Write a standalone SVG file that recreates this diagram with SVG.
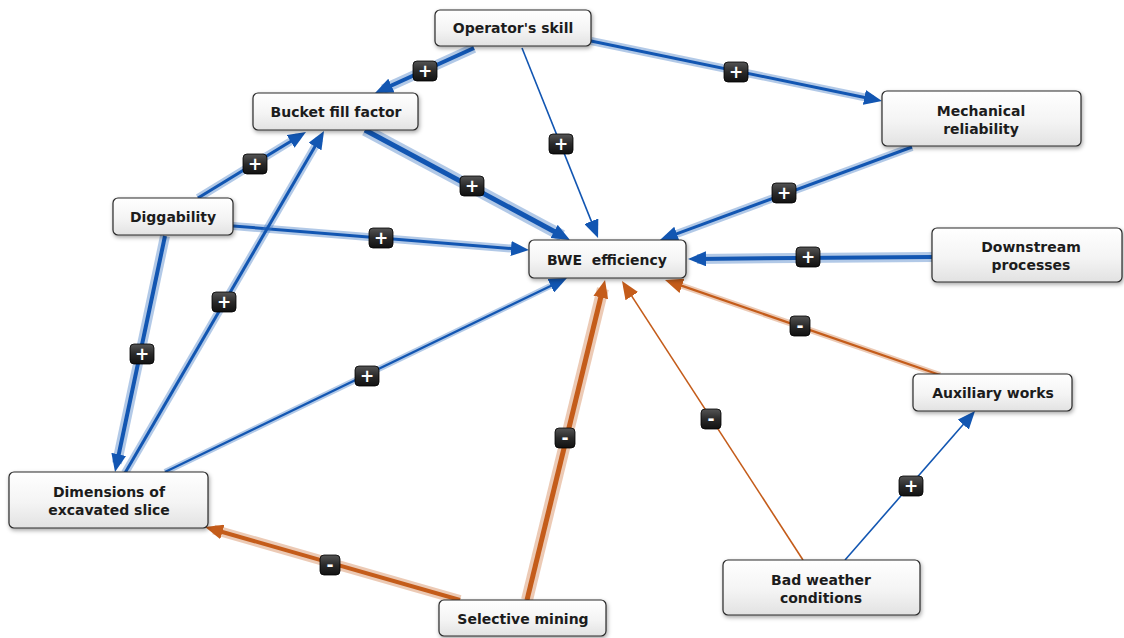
<svg xmlns="http://www.w3.org/2000/svg" width="1124" height="638" viewBox="0 0 1124 638">
  <defs>
    <linearGradient id="nodeFill" x1="0" y1="0" x2="0" y2="1">
      <stop offset="0" stop-color="#ffffff"/>
      <stop offset="0.55" stop-color="#f4f4f4"/>
      <stop offset="1" stop-color="#e2e2e2"/>
    </linearGradient>
    <linearGradient id="badgeFill" x1="0" y1="0" x2="0" y2="1">
      <stop offset="0" stop-color="#555555"/>
      <stop offset="0.5" stop-color="#2a2a2a"/>
      <stop offset="1" stop-color="#111111"/>
    </linearGradient>
    <filter id="shadow" x="-10%" y="-20%" width="120%" height="160%">
      <feDropShadow dx="1" dy="2" stdDeviation="2" flood-color="#000" flood-opacity="0.35"/>
    </filter>
    <marker id="arrowBlue" viewBox="0 0 18 15" markerUnits="userSpaceOnUse" markerWidth="18" markerHeight="15" refX="9" refY="7.5" orient="auto">
      <path d="M0,0 L18,7.5 L0,15 z" fill="#1256b2"/>
    </marker>
    <marker id="arrowOrange" viewBox="0 0 18 15" markerUnits="userSpaceOnUse" markerWidth="18" markerHeight="15" refX="9" refY="7.5" orient="auto">
      <path d="M0,0 L18,7.5 L0,15 z" fill="#c45c1a"/>
    </marker>
  </defs>
  <style>
    .node rect { fill: url(#nodeFill); stroke: #2a2a2a; stroke-width: 1.2; filter: url(#shadow); }
    .node text { font-family: "DejaVu Sans", Verdana, sans-serif; font-weight: bold; font-size: 14px; fill: #1c1c1c; text-anchor: middle; white-space: pre; }
    .halo { fill: none; stroke-linecap: butt; }
    .core { fill: none; stroke-linecap: butt; }
    .pos .halo { stroke: #3f78c4; stroke-opacity: 0.4; }
    .pos .core { stroke: #1256b2; marker-end: url(#arrowBlue); }
    .neg .halo { stroke: #cf7a45; stroke-opacity: 0.4; }
    .neg .core { stroke: #c45c1a; marker-end: url(#arrowOrange); }
    .w5 .core { stroke-width: 5; } .w5 .halo { stroke-width: 12; }
    .w4 .core { stroke-width: 4; } .w4 .halo { stroke-width: 10; }
    .w3 .core { stroke-width: 3; } .w3 .halo { stroke-width: 8; }
    .w2 .core { stroke-width: 2.2; } .w2 .halo { stroke-width: 6; }
    .w1 .core { stroke-width: 1.6; }
    .badge rect { fill: url(#badgeFill); stroke: #000; stroke-width: 0.8; }
    .badge text { font-family: "DejaVu Sans", Verdana, sans-serif; font-weight: bold; font-size: 17px; fill: #ffffff; text-anchor: middle; }
  </style>

  <g id="connectors">
    <!-- Operator's skill -> Bucket fill factor -->
    <g class="pos w4">
      <line class="halo" x1="474" y1="48" x2="383.2" y2="89.3"/>
      <line class="core" x1="474" y1="48" x2="383.2" y2="89.3"/>
    </g>
    <!-- Operator's skill -> Mechanical reliability -->
    <g class="pos w3">
      <line class="halo" x1="591" y1="41" x2="873.2" y2="99.2"/>
      <line class="core" x1="591" y1="41" x2="873.2" y2="99.2"/>
    </g>
    <!-- Operator's skill -> BWE efficiency -->
    <g class="pos w1">
      <line class="core" x1="522" y1="48" x2="594.7" y2="229.6"/>
    </g>
    <!-- Bucket fill factor -> BWE efficiency -->
    <g class="pos w5">
      <line class="halo" x1="365" y1="130" x2="562.1" y2="235.7"/>
      <line class="core" x1="365" y1="130" x2="562.1" y2="235.7"/>
    </g>
    <!-- Mechanical reliability -> BWE efficiency -->
    <g class="pos w3">
      <line class="halo" x1="912" y1="147" x2="668.4" y2="236.9"/>
      <line class="core" x1="912" y1="147" x2="668.4" y2="236.9"/>
    </g>
    <!-- Diggability -> Bucket fill factor -->
    <g class="pos w3">
      <line class="halo" x1="198" y1="198" x2="298.3" y2="136.7"/>
      <line class="core" x1="198" y1="198" x2="298.3" y2="136.7"/>
    </g>
    <!-- Diggability -> BWE efficiency -->
    <g class="pos w3">
      <line class="halo" x1="233" y1="226" x2="520" y2="249.3"/>
      <line class="core" x1="233" y1="226" x2="520" y2="249.3"/>
    </g>
    <!-- Diggability -> Dimensions of excavated slice -->
    <g class="pos w4">
      <line class="halo" x1="165" y1="236" x2="116.9" y2="463.2"/>
      <line class="core" x1="165" y1="236" x2="116.9" y2="463.2"/>
    </g>
    <!-- Dimensions of excavated slice -> Bucket fill factor -->
    <g class="pos w3">
      <line class="halo" x1="125" y1="473" x2="319.5" y2="138.8"/>
      <line class="core" x1="125" y1="473" x2="319.5" y2="138.8"/>
    </g>
    <!-- Dimensions of excavated slice -> BWE efficiency -->
    <g class="pos w2">
      <line class="halo" x1="165" y1="472" x2="558.9" y2="281.9"/>
      <line class="core" x1="165" y1="472" x2="558.9" y2="281.9"/>
    </g>
    <!-- Downstream processes -> BWE efficiency -->
    <g class="pos w4">
      <line class="halo" x1="932" y1="257" x2="697" y2="258.9"/>
      <line class="core" x1="932" y1="257" x2="697" y2="258.9"/>
    </g>
    <!-- Selective mining -> Dimensions of excavated slice -->
    <g class="neg w4">
      <line class="halo" x1="460" y1="600" x2="213.7" y2="529.5"/>
      <line class="core" x1="460" y1="600" x2="213.7" y2="529.5"/>
    </g>
    <!-- Selective mining -> BWE efficiency -->
    <g class="neg w5">
      <line class="halo" x1="527" y1="600" x2="602.9" y2="288.7"/>
      <line class="core" x1="527" y1="600" x2="602.9" y2="288.7"/>
    </g>
    <!-- Bad weather conditions -> BWE efficiency -->
    <g class="neg w1">
      <line class="core" x1="803" y1="560" x2="626.9" y2="288.6"/>
    </g>
    <!-- Bad weather conditions -> Auxiliary works -->
    <g class="pos w1">
      <line class="core" x1="845" y1="560" x2="969.1" y2="417.8"/>
    </g>
    <!-- Auxiliary works -> BWE efficiency -->
    <g class="neg w2">
      <line class="halo" x1="940" y1="375" x2="673.5" y2="282.9"/>
      <line class="core" x1="940" y1="375" x2="673.5" y2="282.9"/>
    </g>

    <!-- polarity badges -->
    <g class="badge" transform="translate(425,71)"><rect x="-12" y="-10" width="24" height="20" rx="4"/><text y="6">+</text></g>
    <g class="badge" transform="translate(736,72)"><rect x="-12" y="-10" width="24" height="20" rx="4"/><text y="6">+</text></g>
    <g class="badge" transform="translate(561,144)"><rect x="-12" y="-10" width="24" height="20" rx="4"/><text y="6">+</text></g>
    <g class="badge" transform="translate(472,186)"><rect x="-12" y="-10" width="24" height="20" rx="4"/><text y="6">+</text></g>
    <g class="badge" transform="translate(784,193)"><rect x="-12" y="-10" width="24" height="20" rx="4"/><text y="6">+</text></g>
    <g class="badge" transform="translate(255,164)"><rect x="-12" y="-10" width="24" height="20" rx="4"/><text y="6">+</text></g>
    <g class="badge" transform="translate(381,238)"><rect x="-12" y="-10" width="24" height="20" rx="4"/><text y="6">+</text></g>
    <g class="badge" transform="translate(142,354)"><rect x="-12" y="-10" width="24" height="20" rx="4"/><text y="6">+</text></g>
    <g class="badge" transform="translate(224,302)"><rect x="-12" y="-10" width="24" height="20" rx="4"/><text y="6">+</text></g>
    <g class="badge" transform="translate(367,376)"><rect x="-12" y="-10" width="24" height="20" rx="4"/><text y="6">+</text></g>
    <g class="badge" transform="translate(808,257)"><rect x="-12" y="-10" width="24" height="20" rx="4"/><text y="6">+</text></g>
    <g class="badge" transform="translate(330,565)"><rect x="-10" y="-10" width="20" height="20" rx="4"/><text y="6">-</text></g>
    <g class="badge" transform="translate(565,438)"><rect x="-10" y="-10" width="20" height="20" rx="4"/><text y="6">-</text></g>
    <g class="badge" transform="translate(711,419)"><rect x="-10" y="-10" width="20" height="20" rx="4"/><text y="6">-</text></g>
    <g class="badge" transform="translate(911,486)"><rect x="-12" y="-10" width="24" height="20" rx="4"/><text y="6">+</text></g>
    <g class="badge" transform="translate(800,326)"><rect x="-10" y="-10" width="20" height="20" rx="4"/><text y="6">-</text></g>
  </g>

  <g id="node-operators-skill" class="node">
    <rect x="435" y="10" width="156" height="36" rx="5"/>
    <text x="513" y="33">Operator's skill</text>
  </g>
  <g id="node-bucket-fill-factor" class="node">
    <rect x="253" y="93" width="165" height="37" rx="5"/>
    <text x="336" y="117">Bucket fill factor</text>
  </g>
  <g id="node-mechanical-reliability" class="node">
    <rect x="882" y="91" width="199" height="55" rx="5"/>
    <text x="981" y="116">Mechanical</text>
    <text x="981" y="134">reliability</text>
  </g>
  <g id="node-diggability" class="node">
    <rect x="113" y="198" width="120" height="37" rx="5"/>
    <text x="173" y="222">Diggability</text>
  </g>
  <g id="node-bwe-efficiency" class="node">
    <rect x="529" y="240" width="157" height="38" rx="5"/>
    <text x="607" y="265">BWE  efficiency</text>
  </g>
  <g id="node-downstream-processes" class="node">
    <rect x="932" y="228" width="190" height="54" rx="5"/>
    <text x="1031" y="252">Downstream</text>
    <text x="1031" y="270">processes</text>
  </g>
  <g id="node-auxiliary-works" class="node">
    <rect x="913" y="374" width="159" height="37" rx="5"/>
    <text x="993" y="398">Auxiliary works</text>
  </g>
  <g id="node-dimensions-of-excavated-slice" class="node">
    <rect x="9" y="472" width="199" height="56" rx="5"/>
    <text x="109" y="497">Dimensions of</text>
    <text x="109" y="515">excavated slice</text>
  </g>
  <g id="node-selective-mining" class="node">
    <rect x="439" y="600" width="167" height="36" rx="5"/>
    <text x="523" y="624">Selective mining</text>
  </g>
  <g id="node-bad-weather-conditions" class="node">
    <rect x="723" y="560" width="197" height="55" rx="5"/>
    <text x="821" y="585">Bad weather</text>
    <text x="821" y="603">conditions</text>
  </g>
</svg>
